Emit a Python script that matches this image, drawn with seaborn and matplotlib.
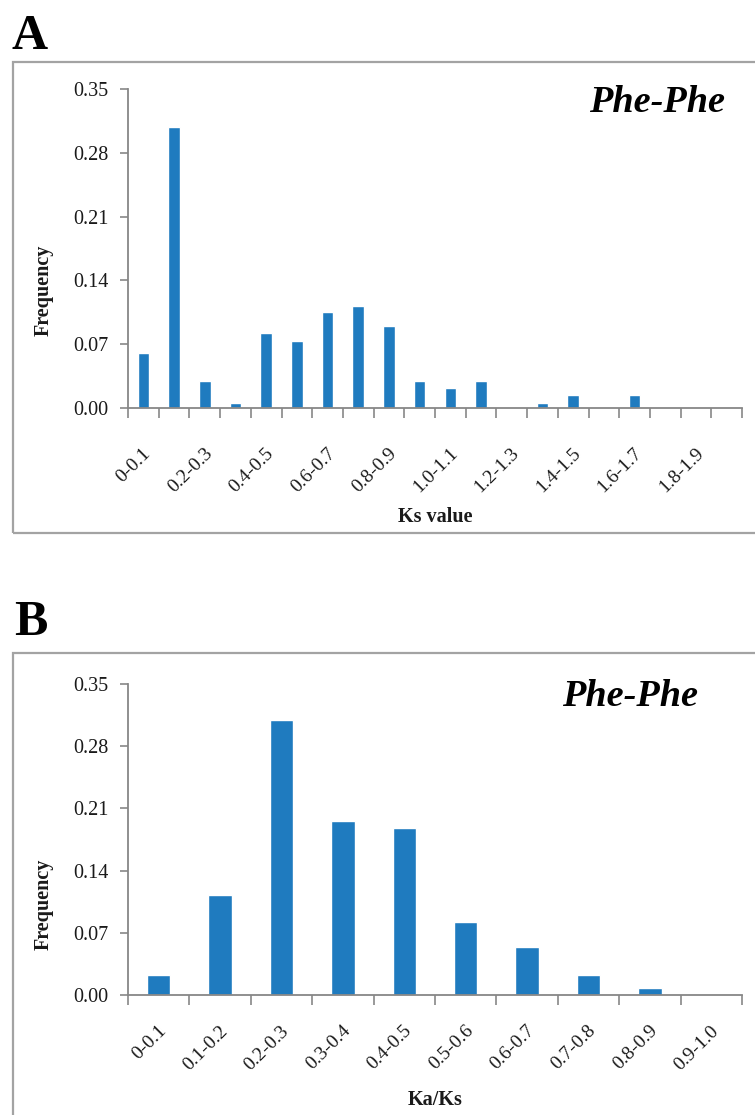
import matplotlib
matplotlib.use("Agg")
import matplotlib.pyplot as plt
import matplotlib.transforms as mtransforms
from matplotlib.patches import Rectangle
import numpy as np
import pandas as pd
import seaborn as sns

# ---------------- data ----------------
ks_bins = ["0-0.1", "0.1-0.2", "0.2-0.3", "0.3-0.4", "0.4-0.5", "0.5-0.6", "0.6-0.7",
           "0.7-0.8", "0.8-0.9", "0.9-1.0", "1.0-1.1", "1.1-1.2", "1.2-1.3", "1.3-1.4",
           "1.4-1.5", "1.5-1.6", "1.6-1.7", "1.7-1.8", "1.8-1.9", "1.9-2.0"]
ks_freq = [0.060, 0.308, 0.030, 0.006, 0.082, 0.074, 0.105, 0.112, 0.090, 0.030,
           0.022, 0.030, 0.000, 0.006, 0.014, 0.000, 0.014, 0.000, 0.000, 0.000]
ks_ticklabels = ["0-0.1", "", "0.2-0.3", "", "0.4-0.5", "", "0.6-0.7", "", "0.8-0.9", "",
                 "1.0-1.1", "", "1.2-1.3", "", "1.4-1.5", "", "1.6-1.7", "", "1.8-1.9", ""]

kaks_bins = ["0-0.1", "0.1-0.2", "0.2-0.3", "0.3-0.4", "0.4-0.5",
             "0.5-0.6", "0.6-0.7", "0.7-0.8", "0.8-0.9", "0.9-1.0"]
kaks_freq = [0.022, 0.113, 0.310, 0.196, 0.188, 0.082, 0.054, 0.022, 0.008, 0.000]
kaks_ticklabels = kaks_bins

y_ticks = [0.00, 0.07, 0.14, 0.21, 0.28, 0.35]
panel_labels = ["A", "B"]
x_titles = ["Ks value", "Ka/Ks"]
y_title = "Frequency"
inset_title = "Phe-Phe"

# ---------------- style ----------------
sns.set_style("ticks")
plt.rcParams["font.family"] = ["Liberation Serif", "DejaVu Serif"]

W, H = 755, 1115
BAR = "#1f7bbf"
AXC = "#878787"
BOXC = "#a3a3a3"
TXT = "#1a1a1a"

fig = plt.figure(figsize=(W / 100, H / 100), dpi=100)


def fbox(x0, y0, x1, y1):
    return [x0 / W, 1 - y1 / H, (x1 - x0) / W, (y1 - y0) / H]


# outer frames
for (x0, y0, x1, y1) in [(13, 62, 770, 533), (13, 653, 770, 1130)]:
    r = Rectangle((x0 / W, 1 - y1 / H), (x1 - x0) / W, (y1 - y0) / H,
                  transform=fig.transFigure, fill=False, edgecolor=BOXC,
                  linewidth=1.6, clip_on=False)
    fig.add_artist(r)

axA = fig.add_axes(fbox(128, 89, 742, 408))
axB = fig.add_axes(fbox(128, 684, 742, 995))

panels = [
    (axA, ks_bins, ks_freq, ks_ticklabels, x_titles[0], 31, 0.37, -0.31),
    (axB, kaks_bins, kaks_freq, kaks_ticklabels, x_titles[1], 24, 0.29, -0.305),
]

for ax, bins, freq, tlabels, xt, xpad, ylab_y, xlab_y in panels:
    df = pd.DataFrame({"bin": bins, "freq": freq})
    sns.barplot(data=df, x="bin", y="freq", order=bins, color=BAR,
                saturation=1, width=0.38, ax=ax)
    n = len(bins)
    ax.set_xlim(-0.5, n - 0.5)
    ax.set_ylim(0, 0.35)
    ax.set_yticks(y_ticks)
    ax.set_yticklabels([f"{v:.2f}" for v in y_ticks])
    ax.set_xticks(np.arange(n))
    ax.set_xticklabels(tlabels)
    ax.set_xticks(np.arange(n + 1) - 0.5, minor=True)

    for s in ["top", "right"]:
        ax.spines[s].set_visible(False)
    for s in ["left", "bottom"]:
        ax.spines[s].set_color(AXC)
        ax.spines[s].set_linewidth(1.3)

    ax.tick_params(axis="y", direction="out", length=6, width=1.2, color=AXC,
                   labelsize=14.5, labelcolor=TXT, pad=8)
    ax.tick_params(axis="x", which="major", length=0, pad=xpad,
                   labelsize=14, labelcolor=TXT)
    ax.tick_params(axis="x", which="minor", direction="out", length=7,
                   width=1.2, color=AXC)
    off = mtransforms.ScaledTranslation(5 / 100, 0, fig.dpi_scale_trans)
    for lab in ax.get_xticklabels():
        lab.set_rotation(45)
        lab.set_rotation_mode("anchor")
        lab.set_ha("right")
        lab.set_va("center")
        lab.set_transform(lab.get_transform() + off)

    ax.set_ylabel(y_title, fontsize=14.5, fontweight="bold", color=TXT)
    ax.yaxis.set_label_coords(-0.121, ylab_y)
    ax.set_xlabel(xt, fontsize=14.5, fontweight="bold", color=TXT)
    ax.xaxis.set_label_coords(0.5, xlab_y)
    ax.grid(False)

fig.text(657 / W, 1 - 102 / H, inset_title, ha="center", va="center",
         fontsize=27.5, fontweight="bold", fontstyle="italic", color="black")
fig.text(630 / W, 1 - 697 / H, inset_title, ha="center", va="center",
         fontsize=27.5, fontweight="bold", fontstyle="italic", color="black")

fig.text(12 / W, 1 - 49 / H, panel_labels[0], ha="left", va="baseline",
         fontsize=36, fontweight="bold", color="black")
fig.text(14 / W, 1 - 635 / H, panel_labels[1], ha="left", va="baseline",
         fontsize=36, fontweight="bold", color="black")

fig.savefig("out.png", dpi=100, facecolor="white")
